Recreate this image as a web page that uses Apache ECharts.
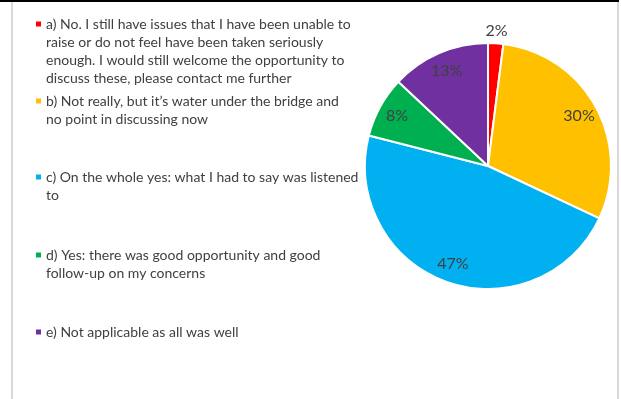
<!DOCTYPE html>
<html>
<head>
<meta charset="utf-8">
<script src="https://cdn.jsdelivr.net/npm/echarts@6/dist/echarts.min.js"></script>
<style>
  html, body { margin: 0; padding: 0; background: #ffffff; }
  #chart { width: 621px; height: 399px; }
</style>
</head>
<body>
<div id="chart"></div>
<script>
// Survey answers and their share of respondents (percent)
const answerLines = [
  ['a) No. I still have issues that I have been unable to',
   'raise or do not feel have been taken seriously',
   'enough. I would still welcome the opportunity to',
   'discuss these, please contact me further'],
  ['b) Not really, but it\u2019s water under the bridge and',
   'no point in discussing now'],
  ['c) On the whole yes: what I had to say was listened',
   'to'],
  ['d) Yes: there was good opportunity and good',
   'follow-up on my concerns'],
  ['e) Not applicable as all was well']
];
const answers = answerLines.map(l => l.join(' '));
const shares = [2, 30, 47, 8, 13];
const sliceColors = ['#FF0000', '#FFC000', '#00B0F0', '#00B050', '#7030A0'];

const FONT = 'Lato, "Open Sans", sans-serif';
const TEXT_COLOR = '#404040';

const chart = echarts.init(document.getElementById('chart'), null, { renderer: 'canvas' });

const center = [488, 166];
const R = 123;

// legend rich styles: one coloured square per answer
const legendRich = {
  t: { fontFamily: FONT, fontSize: 14, color: TEXT_COLOR, lineHeight: 18 },
  g: { width: 5, height: 5 },
  ind: { width: 10, height: 5 }
};
sliceColors.forEach((c, i) => {
  legendRich['m' + i] = { width: 5, height: 5, backgroundColor: c, verticalAlign: 'middle' };
});

const legendTops = [15, 92, 168, 246, 323];
const legends = answers.map((name, i) => ({
  orient: 'vertical',
  left: 31,
  top: legendTops[i],
  padding: 0,
  icon: 'none',
  itemWidth: 0,
  itemHeight: 10,
  selectedMode: false,
  data: [name],
  formatter: () => answerLines[i]
    .map((line, k) => (k === 0 ? '{m' + i + '|}{g|}' : '{ind|}') + '{t|' + line + '}')
    .join('\n'),
  textStyle: { rich: legendRich, lineHeight: 18 }
}));

const pieData = answers.map((name, i) => ({
  name: name,
  value: shares[i],
  itemStyle: { color: sliceColors[i] }
}));

const labelData = answers.map((name, i) => ({
  name: name,
  value: shares[i],
  label: i === 0
    ? { position: 'outside' }
    : { position: 'inside' },
  labelLine: { show: false, length: 12, length2: 0 }
}));

chart.setOption({
  animation: false,
  backgroundColor: '#ffffff',
  legend: legends,
  graphic: [
    { type: 'rect', shape: { x: 0, y: 0, width: 619, height: 2 }, style: { fill: '#000000' }, silent: true },
    { type: 'rect', shape: { x: 11, y: 2, width: 2, height: 397 }, style: { fill: '#D9D9D9' }, silent: true },
    { type: 'rect', shape: { x: 617, y: 2, width: 2, height: 397 }, style: { fill: '#D9D9D9' }, silent: true }
  ],
  series: [
    {
      name: 'shares',
      type: 'pie',
      center: center,
      radius: [0, R],
      startAngle: 90,
      clockwise: true,
      avoidLabelOverlap: false,
      silent: true,
      itemStyle: { borderColor: '#ffffff', borderWidth: 2 },
      label: { show: false },
      labelLine: { show: false },
      emphasis: { disabled: true },
      data: pieData
    },
    {
      name: 'labels',
      type: 'pie',
      center: center,
      radius: [R * 0.64, R],
      startAngle: 90,
      clockwise: true,
      avoidLabelOverlap: false,
      silent: true,
      itemStyle: { color: 'rgba(0,0,0,0)', borderWidth: 0 },
      label: {
        show: true,
        formatter: '{c}%',
        fontFamily: FONT,
        fontSize: 16,
        color: TEXT_COLOR,
        distanceToLabelLine: 0
      },
      labelLayout: (p) => (p.dataIndex === 0 ? { align: 'center' } : {}),
      emphasis: { disabled: true },
      data: labelData
    }
  ]
});
</script>
</body>
</html>
